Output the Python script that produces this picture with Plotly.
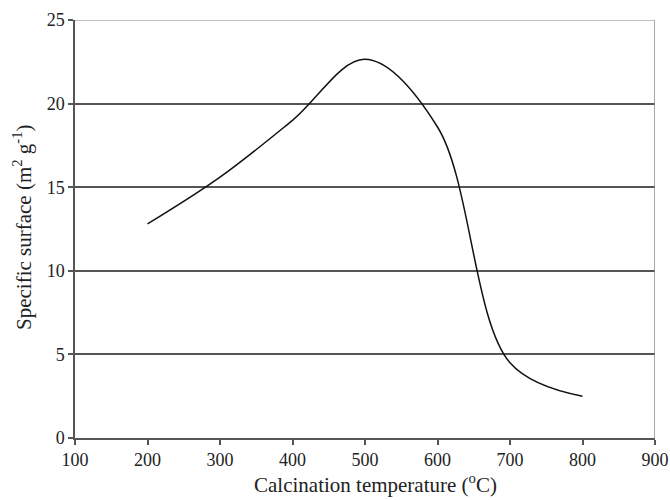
import plotly.graph_objects as go

temperature = [200, 300, 400, 500, 600, 700, 800]
surface = [12.8, 15.6, 19.0, 22.65, 18.6, 4.5, 2.5]

x_ticks = [100, 200, 300, 400, 500, 600, 700, 800, 900]
y_ticks = [0, 5, 10, 15, 20, 25]

font_family = "Liberation Serif, Times New Roman, serif"

L, R, T, B = 75, 15, 20, 62
W, H = 670, 500
pw, ph = W - L - R, H - T - B

fig = go.Figure()
fig.add_trace(go.Scatter(
    x=temperature, y=surface, mode="lines",
    line=dict(color="#111111", width=1.5, shape="spline", smoothing=1.0),
    showlegend=False,
))

fig.update_layout(
    width=W, height=H, autosize=False,
    margin=dict(l=L, r=R, t=T, b=B, autoexpand=False),
    paper_bgcolor="white", plot_bgcolor="white",
    font=dict(family=font_family, size=18, color="#222222"),
    xaxis=dict(
        range=[100, 900], tickvals=x_ticks, showgrid=False, zeroline=False,
        showline=True, linecolor="#555555", linewidth=1.5, automargin=False,
        ticks="outside", ticklen=5, tickcolor="#555555", tickwidth=1.5,
    ),
    yaxis=dict(
        range=[0, 25], tickvals=y_ticks, showgrid=True, gridcolor="#555555", gridwidth=1.5,
        zeroline=False, showline=True, linecolor="#555555", linewidth=1.5, automargin=False,
        ticks="outside", ticklen=5, tickcolor="#555555", tickwidth=1.5,
    ),
    shapes=[
        dict(type="line", xref="x", yref="y", x0=900, x1=900, y0=0, y1=25,
             line=dict(color="#888888", width=1.5)),
        dict(type="line", xref="x", yref="y", x0=100, x1=900, y0=25, y1=25,
             line=dict(color="#aaaaaa", width=1.5)),
    ],
    annotations=[
        dict(text="Calcination temperature (<sup>o</sup>C)", xref="paper", yref="paper",
             x=(375 - L) / pw, y=(438 - 499) / ph, xanchor="center", yanchor="bottom",
             showarrow=False, font=dict(size=21)),
        dict(text="Specific surface (m<sup>2</sup> g<sup>-1</sup>)", xref="paper", yref="paper",
             x=(22 - L) / pw, y=(438 - 227) / ph, xanchor="center", yanchor="middle",
             textangle=-90, showarrow=False, font=dict(size=21)),
    ],
)

fig.write_html("out.html")
